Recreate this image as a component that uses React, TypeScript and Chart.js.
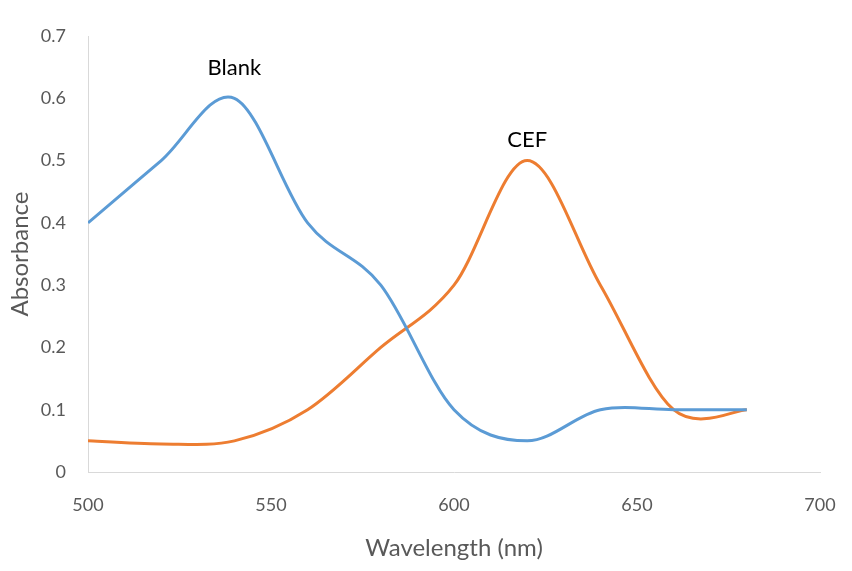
import React, { useEffect, useRef } from "react";
import { Chart, registerables } from "chart.js";

Chart.register(...registerables);

const wavelengths = [500, 520, 540, 560, 580, 600, 620, 640, 660, 680];
const blankValues = [0.40, 0.50, 0.60, 0.40, 0.30, 0.10, 0.05, 0.10, 0.10, 0.10];
const cefValues = [0.05, 0.045, 0.05, 0.10, 0.20, 0.30, 0.50, 0.30, 0.10, 0.10];
const seriesNames = ["Blank", "CEF"];
const labelX = [540, 620];
const labelY = [0.648, 0.533];

// Excel-like (Catmull-Rom) smoothing of the line's control points
const smoothPlugin = {
  id: "catmullRom",
  beforeDatasetDraw(chart: any, args: any) {
    const meta = args.meta;
    const line = meta.dataset;
    if (!line) return;
    line.updateControlPoints(chart.chartArea, "x");
    const pts = meta.data;
    const k = 1 / 6;
    for (let i = 0; i < pts.length; i++) {
      const p = pts[i];
      const prev = pts[i - 1] || p;
      const next = pts[i + 1] || p;
      const dx = next.x - prev.x;
      const dy = next.y - prev.y;
      p.cp1x = p.x - k * dx;
      p.cp1y = p.y - k * dy;
      p.cp2x = p.x + k * dx;
      p.cp2y = p.y + k * dy;
    }
  },
};

const annotationPlugin = {
  id: "seriesLabels",
  afterDatasetsDraw(chart: any) {
    const { ctx, scales } = chart;
    ctx.save();
    ctx.fillStyle = "#000000";
    ctx.font = "22px Lato";
    ctx.textAlign = "center";
    ctx.textBaseline = "middle";
    seriesNames.forEach((name, i) => {
      ctx.fillText(name, scales.x.getPixelForValue(labelX[i]), scales.y.getPixelForValue(labelY[i]));
    });
    ctx.restore();
  },
};

export default function App() {
  const ref = useRef<HTMLCanvasElement>(null);
  useEffect(() => {
    document.body.style.margin = "0";
    const tickFont = { family: "Lato", size: 18 };
    const titleFont = { family: "Lato", size: 24 };
    const chart = new Chart(ref.current!, {
      type: "line",
      data: {
        datasets: [
          {
            label: seriesNames[0],
            data: wavelengths.map((w, i) => ({ x: w, y: blankValues[i] })),
            borderColor: "#5B9BD5",
            borderWidth: 3,
            pointRadius: 0,
            tension: 0.4,
            fill: false,
          },
          {
            label: seriesNames[1],
            data: wavelengths.map((w, i) => ({ x: w, y: cefValues[i] })),
            borderColor: "#ED7D31",
            borderWidth: 3,
            pointRadius: 0,
            tension: 0.4,
            fill: false,
          },
        ],
      },
      options: {
        animation: false,
        responsive: false,
        layout: { padding: { top: 36, right: 0, left: 0, bottom: 0 } },
        plugins: { legend: { display: false }, tooltip: { enabled: false } },
        scales: {
          x: {
            type: "linear",
            min: 500,
            max: 700,
            ticks: { stepSize: 50, color: "#595959", font: tickFont, padding: 22 },
            grid: { display: false, drawTicks: false },
            border: { display: true, color: "#D9D9D9", width: 1 },
            title: { display: true, text: "Wavelength (nm)", color: "#595959", font: titleFont, padding: { top: 0, bottom: 8 } },
            afterFit: (s: any) => { s.height = 99; s.paddingRight = 32; s.paddingLeft = 0; },
          },
          y: {
            type: "linear",
            min: 0,
            max: 0.7,
            ticks: { stepSize: 0.1, color: "#595959", font: tickFont, padding: 22 },
            grid: { display: false, drawTicks: false },
            border: { display: true, color: "#D9D9D9", width: 1 },
            title: { display: true, text: "Absorbance", color: "#595959", font: titleFont, padding: { top: 6, bottom: 0 } },
            afterFit: (s: any) => { s.width = 88; s.paddingTop = 0; s.paddingBottom = 0; },
          },
        },
      },
      plugins: [smoothPlugin, annotationPlugin],
    } as any);
    return () => chart.destroy();
  }, []);
  return (
    <div style={{ width: 852, height: 571, background: "#fff" }}>
      <canvas ref={ref} width={852} height={571} style={{ display: "block" }} />
    </div>
  );
}
